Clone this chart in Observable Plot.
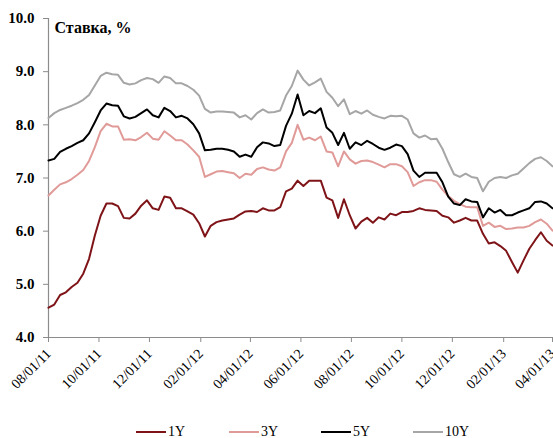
<!DOCTYPE html>
<html><head><meta charset="utf-8">
<script src="https://cdn.jsdelivr.net/npm/d3@7"></script>
<script src="https://cdn.jsdelivr.net/npm/@observablehq/plot@0.6"></script>
<style>
body{margin:0;background:#fff;font-family:"Liberation Serif","Times New Roman",serif;}
#legend{position:relative;width:553px;height:18px;margin-top:3px;font-size:14px;line-height:18px;color:#000;}
.item{position:absolute;top:0;display:flex;align-items:center;height:18px;}
.swatch{width:30px;height:2px;margin-right:2px;}
</style></head>
<body><div id="chart"></div><div id="legend"></div>
<script>
const dates = [
"2011-08-01","2011-08-08","2011-08-15","2011-08-22","2011-08-29","2011-09-05","2011-09-12","2011-09-19","2011-09-26",
"2011-10-03","2011-10-10","2011-10-17","2011-10-24","2011-10-31","2011-11-07","2011-11-14","2011-11-21","2011-11-28",
"2011-12-05","2011-12-12","2011-12-19","2011-12-26",
"2012-01-02","2012-01-09","2012-01-16","2012-01-23","2012-01-30","2012-02-06","2012-02-13","2012-02-20","2012-02-27",
"2012-03-05","2012-03-12","2012-03-19","2012-03-26","2012-04-02","2012-04-09","2012-04-16","2012-04-23","2012-04-30",
"2012-05-07","2012-05-14","2012-05-21","2012-05-28","2012-06-04","2012-06-11","2012-06-18","2012-06-25",
"2012-07-02","2012-07-09","2012-07-16","2012-07-23","2012-07-30","2012-08-06","2012-08-13","2012-08-20","2012-08-27",
"2012-09-03","2012-09-10","2012-09-17","2012-09-24","2012-10-01","2012-10-08","2012-10-15","2012-10-22","2012-10-29",
"2012-11-05","2012-11-12","2012-11-19","2012-11-26","2012-12-03","2012-12-10","2012-12-17","2012-12-24","2012-12-31",
"2013-01-07","2013-01-14","2013-01-21","2013-01-28","2013-02-04","2013-02-11","2013-02-18","2013-02-25",
"2013-03-04","2013-03-11","2013-03-18","2013-03-25","2013-04-01"];

const y1Y = [4.56,4.62,4.80,4.85,4.95,5.03,5.20,5.48,5.92,6.29,
6.52,6.52,6.47,6.25,6.24,6.33,6.48,6.58,6.43,6.40,
6.65,6.63,6.43,6.43,6.37,6.31,6.15,5.90,6.10,6.17,
6.20,6.22,6.24,6.31,6.37,6.38,6.36,6.43,6.39,6.39,
6.45,6.75,6.80,6.95,6.85,6.95,6.95,6.95,6.63,6.58,
6.25,6.60,6.30,6.05,6.18,6.25,6.16,6.26,6.22,6.33,
6.30,6.36,6.36,6.38,6.43,6.40,6.39,6.38,6.29,6.26,
6.16,6.20,6.25,6.20,6.20,5.95,5.77,5.79,5.72,5.63,
5.42,5.22,5.45,5.67,5.83,5.98,5.82,5.73];

const y3Y = [6.67,6.78,6.88,6.92,6.98,7.06,7.15,7.32,7.58,7.88,
8.02,7.97,7.97,7.72,7.73,7.71,7.77,7.85,7.74,7.72,
7.88,7.80,7.71,7.71,7.63,7.52,7.40,7.02,7.07,7.12,
7.13,7.11,7.09,7.00,7.08,7.06,7.17,7.20,7.16,7.14,
7.20,7.50,7.66,8.00,7.72,7.76,7.71,7.78,7.50,7.48,
7.22,7.50,7.35,7.27,7.32,7.33,7.30,7.25,7.20,7.26,
7.26,7.22,7.11,6.85,6.92,6.96,6.96,6.93,6.78,6.66,
6.57,6.51,6.46,6.45,6.45,6.10,6.16,6.08,6.10,6.04,
6.05,6.07,6.07,6.10,6.17,6.22,6.14,6.01];

const y5Y = [7.33,7.36,7.49,7.55,7.60,7.66,7.71,7.84,8.05,8.27,
8.40,8.37,8.36,8.16,8.12,8.15,8.22,8.29,8.18,8.14,
8.32,8.26,8.14,8.17,8.12,8.01,7.84,7.52,7.53,7.55,
7.55,7.53,7.50,7.40,7.44,7.40,7.58,7.67,7.65,7.60,
7.62,7.98,8.21,8.57,8.18,8.26,8.22,8.31,7.95,7.85,
7.62,7.85,7.55,7.67,7.62,7.70,7.64,7.57,7.53,7.57,
7.63,7.60,7.45,7.14,7.02,7.10,7.10,7.10,6.92,6.65,
6.52,6.49,6.60,6.56,6.55,6.26,6.43,6.35,6.40,6.30,
6.30,6.35,6.39,6.43,6.55,6.56,6.52,6.43];

const y10Y = [8.13,8.22,8.28,8.32,8.36,8.41,8.47,8.56,8.74,8.92,
8.98,8.95,8.94,8.79,8.76,8.78,8.84,8.88,8.86,8.79,
8.91,8.88,8.78,8.78,8.73,8.66,8.55,8.30,8.23,8.25,
8.25,8.24,8.23,8.14,8.18,8.10,8.22,8.29,8.23,8.24,
8.27,8.55,8.73,9.02,8.85,8.74,8.80,8.87,8.62,8.51,
8.35,8.48,8.20,8.26,8.21,8.27,8.19,8.15,8.12,8.17,
8.16,8.17,8.10,7.84,7.76,7.80,7.73,7.74,7.55,7.30,
7.07,7.02,7.08,7.02,7.00,6.75,6.93,7.00,7.02,7.00,
7.05,7.08,7.18,7.28,7.36,7.39,7.32,7.22];

const seriesNames = ["1Y","3Y","5Y","10Y"];
const seriesColors = ["#7f1418","#e09a98","#000000","#a6a6a6"];
const yTicks = [4,5,6,7,8,9,10];
const xTicks = ["2011-08-01","2011-10-01","2011-12-01","2012-02-01","2012-04-01","2012-06-01",
"2012-08-01","2012-10-01","2012-12-01","2013-02-01","2013-04-01"];
const titleText = "Ставка, %";

const seriesValues = [y1Y, y3Y, y5Y, y10Y];
const data = [];
seriesNames.forEach((s, j) => {
  dates.forEach((d, i) => data.push({date: new Date(d), value: seriesValues[j][i], series: s}));
});
const xDomain = [new Date(xTicks[0]), new Date(xTicks[xTicks.length - 1])];

const chart = Plot.plot({
  width: 553, height: 420,
  marginLeft: 48, marginRight: 1, marginTop: 18, marginBottom: 83,
  style: {fontFamily: '"Liberation Serif","Times New Roman",serif', background: "#fff", color: "#000"},
  x: {type: "utc", domain: xDomain},
  y: {domain: [4, 10]},
  color: {domain: seriesNames, range: seriesColors},
  marks: [
    Plot.axisY({ticks: yTicks, tickFormat: d => d.toFixed(1), tickSize: 5, tickPadding: 9,
      stroke: "#8c8c8c", fill: "#000", fontSize: 15, fontWeight: "bold", label: null}),
    Plot.axisX({ticks: xTicks.map(d => new Date(d)), tickFormat: d3.utcFormat("%m/%d/%y"),
      tickRotate: -45, tickSize: 5, tickPadding: 9, stroke: "#8c8c8c", fill: "#000", fontSize: 14, label: null}),
    Plot.ruleX([xDomain[0]], {stroke: "#8c8c8c", strokeWidth: 1.2}),
    Plot.ruleY([4], {stroke: "#8c8c8c", strokeWidth: 1.2}),
    Plot.lineY(data, {x: "date", y: "value", z: "series", stroke: "series", strokeWidth: 2}),
    Plot.text([titleText], {frameAnchor: "top-left", textAnchor: "start", lineAnchor: "top",
      dx: 6, dy: 3, fontSize: 16, fontWeight: "bold", fill: "#000"})
  ]
});
document.getElementById("chart").appendChild(chart);

const legend = document.getElementById("legend");
const legendLeft = [136, 229, 321, 413];
seriesNames.forEach((s, i) => {
  const item = document.createElement("div");
  item.className = "item";
  item.style.left = legendLeft[i] + "px";
  const sw = document.createElement("span");
  sw.className = "swatch";
  sw.style.background = seriesColors[i];
  const t = document.createElement("span");
  t.textContent = s;
  item.appendChild(sw); item.appendChild(t);
  legend.appendChild(item);
});
</script></body></html>
